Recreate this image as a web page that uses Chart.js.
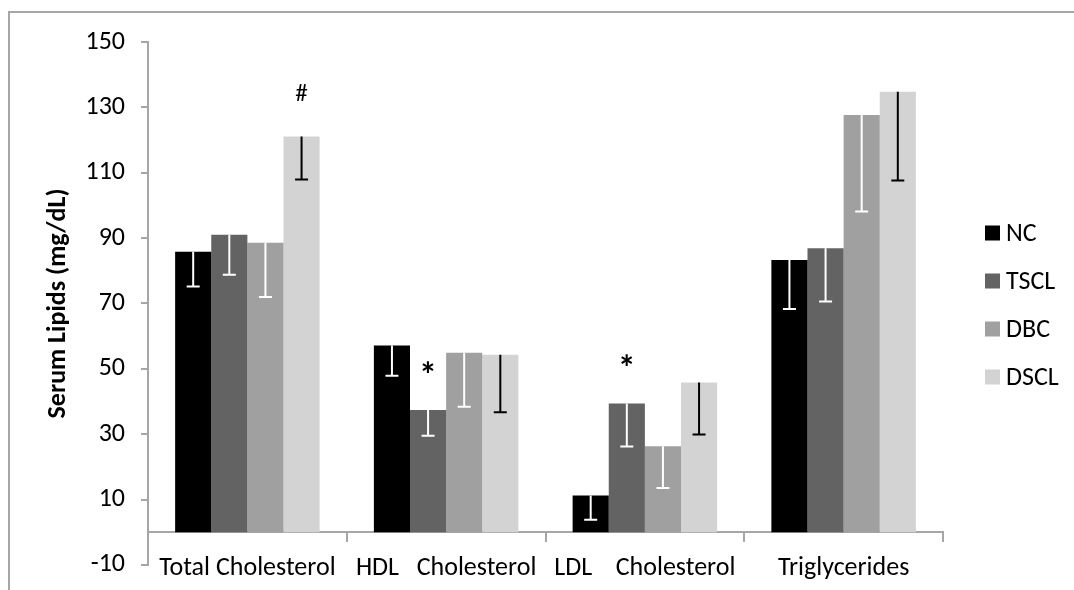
<!DOCTYPE html>
<html>
<head>
<meta charset="utf-8">
<script src="https://cdn.jsdelivr.net/npm/chart.js@4/dist/chart.umd.min.js"></script>
<style>
  html, body { margin: 0; padding: 0; background: #ffffff; }
  #wrap { position: relative; width: 1074px; height: 590px; overflow: hidden; }
  #frame { position: absolute; left: 8px; top: 11px; width: 1200px; height: 800px;
           border-top: 2px solid #a6a6a6; border-left: 2px solid #a6a6a6; }
  #c { position: absolute; left: 0; top: 0; }
</style>
</head>
<body>
<div id="wrap">
  <div id="frame"></div>
  <canvas id="c" width="1074" height="590"></canvas>
</div>
<script>
// ---- data ----
const categories = ["Total Cholesterol", "HDL   Cholesterol", "LDL    Cholesterol", "Triglycerides"];
const seriesNames = ["NC", "TSCL", "DBC", "DSCL"];
const ncValues   = [85.8, 57.1, 11.2, 83.3];
const tsclValues = [91.0, 37.4, 39.4, 86.9];
const dbcValues  = [88.6, 54.9, 26.3, 127.7];
const dsclValues = [121.1, 54.3, 45.8, 134.8];
// lower ends of the error bars
const ncErrLow   = [75.2, 47.9, 3.8, 68.3];
const tsclErrLow = [78.8, 29.5, 26.2, 70.6];
const dbcErrLow  = [72.0, 38.4, 13.5, 98.1];
const dsclErrLow = [107.9, 36.7, 29.9, 107.6];
const yTicks = [-10, 10, 30, 50, 70, 90, 110, 130, 150];
const marks = [
  { series: 3, category: 0, text: "#" },
  { series: 1, category: 1, text: "*" },
  { series: 1, category: 2, text: "*" }
];

// ---- styles ----
const FONT = "Carlito, Lato, 'Liberation Sans', sans-serif";
const fills = ["#000000", "#636363", "#a0a0a0", "#d3d3d3"];
const errColors = ["#ffffff", "#ffffff", "#ffffff", "#000000"];
const axisColor = "#a6a6a6";

const valuesList = [ncValues, tsclValues, dbcValues, dsclValues];
const errList = [ncErrLow, tsclErrLow, dbcErrLow, dsclErrLow];

const errorBarPlugin = {
  id: "errorBars",
  afterDatasetsDraw(chart) {
    const ctx = chart.ctx;
    const ys = chart.scales.y;
    chart.data.datasets.forEach((ds, di) => {
      const meta = chart.getDatasetMeta(di);
      meta.data.forEach((bar, i) => {
        const low = ds.errLow[i];
        if (low == null) return;
        const yTop = bar.y;
        const yLow = ys.getPixelForValue(low);
        ctx.save();
        ctx.strokeStyle = ds.errColor;
        ctx.lineWidth = 2;
        ctx.beginPath();
        ctx.moveTo(bar.x, yTop);
        ctx.lineTo(bar.x, yLow);
        ctx.moveTo(bar.x - 6.5, yLow);
        ctx.lineTo(bar.x + 6.5, yLow);
        ctx.stroke();
        ctx.restore();
      });
    });
  }
};

const marksPlugin = {
  id: "marks",
  afterDatasetsDraw(chart) {
    const ctx = chart.ctx;
    marks.forEach(m => {
      const bar = chart.getDatasetMeta(m.series).data[m.category];
      ctx.save();
      ctx.fillStyle = "#000";
      ctx.textAlign = "center";
      ctx.textBaseline = "middle";
      if (m.text === "*") {
        ctx.font = "bold 36px " + FONT;
        ctx.fillText(m.text, bar.x, bar.y - 32);
      } else {
        ctx.font = "25px " + FONT;
        ctx.fillText(m.text, bar.x, bar.y - 42);
      }
      ctx.restore();
    });
  }
};

const legendPlugin = {
  id: "sideLegend",
  afterDraw(chart) {
    const ctx = chart.ctx;
    ctx.save();
    ctx.font = "26px " + FONT;
    ctx.textBaseline = "middle";
    ctx.textAlign = "left";
    chart.data.datasets.forEach((ds, i) => {
      const cy = 233 + i * 48;
      ctx.fillStyle = ds.backgroundColor;
      ctx.fillRect(985, cy - 7.5, 15, 15);
      ctx.fillStyle = "#000";
      ctx.fillText(ds.label, 1006, cy + 1);
    });
    ctx.restore();
  }
};

new Chart(document.getElementById("c"), {
  type: "bar",
  data: {
    labels: categories,
    datasets: seriesNames.map((name, i) => ({
      label: name,
      data: valuesList[i],
      errLow: errList[i],
      errColor: errColors[i],
      backgroundColor: fills[i],
      borderWidth: 0,
      categoryPercentage: 0.727,
      barPercentage: 1.0
    }))
  },
  options: {
    responsive: false,
    animation: false,
    devicePixelRatio: 1,
    layout: { padding: { left: 30, right: 131, top: 42, bottom: 25 } },
    plugins: { legend: { display: false }, tooltip: { enabled: false } },
    scales: {
      x: {
        type: "category",
        position: { y: 0 },
        grid: { display: true, drawOnChartArea: false, drawTicks: true, tickLength: 9, color: axisColor, lineWidth: 2, offset: true },
        border: { display: true, color: axisColor, width: 2 },
        ticks: { color: "#000", font: { family: FONT, size: 26 }, padding: 12, autoSkip: false, maxRotation: 0 }
      },
      y: {
        min: -10, max: 150,
        afterBuildTicks(scale) { scale.ticks = yTicks.map(v => ({ value: v })); },
        afterFit(scale) { scale.width = 148 - 30; },
        grid: { display: true, drawOnChartArea: false, drawTicks: true, tickLength: 7, color: axisColor, lineWidth: 2 },
        border: { display: true, color: axisColor, width: 2 },
        ticks: { color: "#000", font: { family: FONT, size: 26, lineHeight: 0.7 }, padding: 16 },
        title: { display: true, text: "Serum Lipids (mg/dL)", color: "#000", font: { family: FONT, size: 26, weight: "bold" }, padding: { top: 13, bottom: 0 } }
      }
    }
  },
  plugins: [errorBarPlugin, marksPlugin, legendPlugin]
});
</script>
</body>
</html>
